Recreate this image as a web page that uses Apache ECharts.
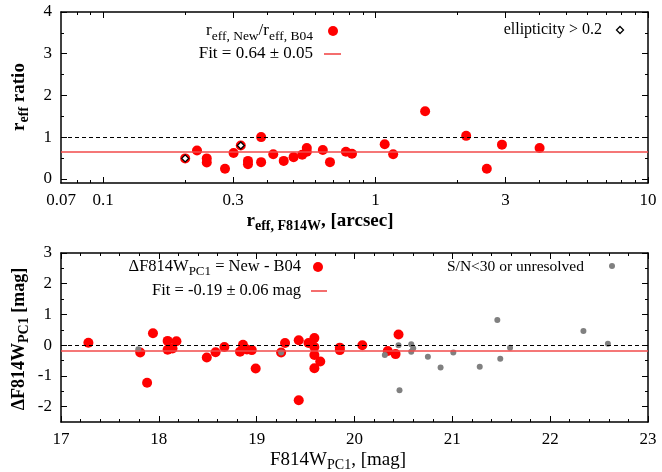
<!DOCTYPE html>
<html><head><meta charset="utf-8">
<script src="https://cdn.jsdelivr.net/npm/echarts@6/dist/echarts.min.js"></script>
<style>html,body{margin:0;padding:0;background:#fff}#c{width:662px;height:472px}</style>
</head><body><div id="c"></div>
<script>
// ---- data (top panel: r_eff ratio vs r_eff) ----
const ratioR   = [0.2,0.221,0.24,0.24,0.28,0.301,0.32,0.34,0.34,0.38,0.38,0.421,0.46,0.50,0.538,0.559,0.559,0.64,0.68,0.778,0.819,1.08,1.16,1.52,2.15,2.56,2.91,4.00];
const ratioVal = [0.49,0.68,0.49,0.39,0.24,0.62,0.80,0.43,0.35,1.0,0.40,0.59,0.43,0.52,0.58,0.65,0.74,0.69,0.40,0.65,0.60,0.83,0.59,1.62,1.03,0.24,0.82,0.74];
const ellipR   = [0.2,0.32];
const ellipVal = [0.49,0.80];
const fitRatio = 0.64;
const refRatio = 1;
// ---- data (bottom panel: delta mag vs mag) ----
const magGood  = [17.28,17.81,17.88,17.94,18.09,18.09,18.14,18.18,18.49,18.58,18.67,18.83,18.86,18.90,18.95,18.99,19.25,19.29,19.43,19.43,19.53,19.59,19.59,19.59,19.59,19.65,19.85,19.85,20.08,20.34,20.42,20.45];
const dMagGood = [0.08,-0.24,-1.22,0.39,0.14,-0.15,-0.11,0.13,-0.40,-0.23,-0.06,-0.21,0.01,-0.14,-0.16,-0.76,-0.24,0.07,0.16,-1.79,0.07,0.23,-0.06,-0.32,-0.75,-0.53,-0.08,-0.16,0.0,-0.19,-0.29,0.35];
const magLow   = [17.79,19.25,20.31,20.45,20.46,20.58,20.60,20.58,20.75,20.88,21.01,21.28,21.46,21.49,21.59,22.34,22.59];
const dMagLow  = [-0.13,-0.24,-0.32,0.0,-1.47,0.03,-0.10,-0.21,-0.38,-0.73,-0.24,-0.70,0.82,-0.44,-0.08,0.46,0.05];
const fitMag = -0.19;
const refMag = 0;
// ---- ticks ----
const topXLabels = [0.07,0.1,0.3,1,3,10];
const topXMajor  = [0.1,0.3,1,3,10];
const topXMinor  = [0.08,0.09,0.2,0.4,0.5,0.6,0.7,0.8,0.9,2,4,5,6,7,8,9];
const topYLabels = [0,1,2,3,4];
const topYMinor  = [0.5,1.5,2.5,3.5];
const botXLabels = [17,18,19,20,21,22,23];
const botXMinor  = [17.2,17.4,17.6,17.8,18.2,18.4,18.6,18.8,19.2,19.4,19.6,19.8,20.2,20.4,20.6,20.8,21.2,21.4,21.6,21.8,22.2,22.4,22.6,22.8];
const botYLabels = [-2,-1,0,1,2,3];
const botYMinor  = [-1.5,-0.5,0.5,1.5,2.5];

const FONT = 'Liberation Serif';
const zip = (a,b) => a.map((v,i)=>[v,b[i]]);
const fmt = v => String(+(+v).toPrecision(4));

function axis(grid, type, min, max, pos, ticks, len, labels, showLine) {
  const a = {
    type, gridIndex: grid, min, max, position: pos,
    axisLine: {show: showLine, onZero:false, lineStyle:{color:'#000', width:1.5}},
    axisTick: {show:true, inside:true, length:len, customValues: ticks, lineStyle:{color:'#000', width:1}},
    axisLabel: labels ? {show:true, customValues: labels, formatter: fmt, fontFamily: FONT, fontSize:17, color:'#000', margin:9}
                      : {show:false},
    splitLine: {show:false}
  };
  if (type === 'log') a.logBase = 10;
  return a;
}
function axisSet(grid, type, min, max, posA, posB, major, minor, labels) {
  return [
    axis(grid, type, min, max, posA, major, 6, labels, true),
    axis(grid, type, min, max, posA, minor, 3, null, false),
    axis(grid, type, min, max, posB, major, 6, null, true),
    axis(grid, type, min, max, posB, minor, 3, null, false)
  ];
}

const xAxis = [
  ...axisSet(0, 'log', 0.07, 10, 'bottom', 'top', topXMajor, topXMinor, topXLabels),
  ...axisSet(1, 'value', 17, 23, 'bottom', 'top', botXLabels, botXMinor, botXLabels)
];
const yAxis = [
  ...axisSet(0, 'value', -0.1, 4, 'left', 'right', topYLabels, topYMinor, topYLabels),
  ...axisSet(1, 'value', -2.5, 3, 'left', 'right', botYLabels, botYMinor, botYLabels)
];

const ML = (ref, fit) => ({
  silent:true, symbol:'none', label:{show:false}, animation:false,
  data:[
    {yAxis: ref, lineStyle:{type:[4,3], color:'#000', width:1}},
    {yAxis: fit, lineStyle:{type:'solid', color:'#f24a4a', width:1.6}}
  ]
});

const sub = (size, bold) => ({fontFamily:FONT, fontSize:size, fontWeight: bold?'bold':'normal', color:'#000', padding:[Math.round(size*0.8),0,0,0]});
const nor = (size, bold) => ({fontFamily:FONT, fontSize:size, fontWeight: bold?'bold':'normal', color:'#000'});

function txt(x, y, text, rich, align, rot) {
  return {type:'text', x, y, rotation: rot||0, z:100,
    style:{text, rich, align: align||'left', verticalAlign:'middle', fontFamily:FONT, fontSize:15, fill:'#000'}};
}

const graphic = [
  txt(19, 97, '{n|r}{s|eff}{n| ratio}', {n:nor(19,true), s:sub(14,true)}, 'center', Math.PI/2),
  txt(320, 221, '{n|r}{s|eff, F814W}{n|, [arcsec]}', {n:nor(19,true), s:sub(14,true)}, 'center'),
  txt(19, 339, '{n|ΔF814W}{s|PC1}{n| [mag]}', {n:nor(18,true), s:sub(14,true)}, 'center', Math.PI/2),
  txt(338, 460, '{n|F814W}{s|PC1}{n|, [mag]}', {n:nor(19,false), s:sub(14,false)}, 'center'),
  txt(313, 31, '{n|r}{s|eff, New}{n|/r}{s|eff, B04}', {n:nor(17), s:sub(13.5)}, 'right'),
  txt(313, 54, '{n|Fit = 0.64 ± 0.05}', {n:nor(17)}, 'right'),
  txt(602, 30, '{n|ellipticity > 0.2}', {n:nor(16)}, 'right'),
  {type:'circle', shape:{cx:333, cy:31, r:5}, style:{fill:'#ff0000'}, z:100},
  {type:'line', shape:{x1:324, y1:54, x2:341, y2:54}, style:{stroke:'#f24a4a', lineWidth:1.6}, z:100},
  {type:'polygon', shape:{points:[[620,26.5],[623.5,30],[620,33.5],[616.5,30]]}, style:{fill:'#fff', stroke:'#000', lineWidth:1.3}, z:100},
  txt(301, 267, '{n|ΔF814W}{s|PC1}{n| = New - B04}', {n:nor(16.5), s:sub(13)}, 'right'),
  txt(301, 291, '{n|Fit = -0.19 ± 0.06 mag}', {n:nor(16.5)}, 'right'),
  txt(584, 267, '{n|S/N<30 or unresolved}', {n:nor(15.5)}, 'right'),
  {type:'circle', shape:{cx:318, cy:267, r:5}, style:{fill:'#ff0000'}, z:100},
  {type:'line', shape:{x1:311, y1:291, x2:327, y2:291}, style:{stroke:'#f24a4a', lineWidth:1.6}, z:100},
  {type:'circle', shape:{cx:612, cy:266, r:3}, style:{fill:'#808080'}, z:100}
];

const option = {
  animation:false,
  backgroundColor:'#fff',
  grid:[
    {left:61, top:12, width:587, height:171},
    {left:61, top:253, width:587, height:169}
  ],
  xAxis, yAxis, graphic,
  series:[
    {type:'scatter', xAxisIndex:0, yAxisIndex:0, data: zip(ratioR, ratioVal), symbol:'circle', symbolSize:10,
      itemStyle:{color:'#ff0000', opacity:1}, markLine: ML(refRatio, fitRatio), z:3},
    {type:'scatter', xAxisIndex:0, yAxisIndex:0, data: zip(ellipR, ellipVal), symbol:'diamond', symbolSize:7,
      itemStyle:{color:'#fff', borderColor:'#000', borderWidth:1.3, opacity:1}, z:4},
    {type:'scatter', xAxisIndex:4, yAxisIndex:4, data: zip(magGood, dMagGood), symbol:'circle', symbolSize:10,
      itemStyle:{color:'#ff0000', opacity:1}, markLine: ML(refMag, fitMag), z:3},
    {type:'scatter', xAxisIndex:4, yAxisIndex:4, data: zip(magLow, dMagLow), symbol:'circle', symbolSize:6,
      itemStyle:{color:'#808080', opacity:1}, z:4}
  ]
};
const chart = echarts.init(document.getElementById('c'), null, {renderer:'canvas'});
chart.setOption(option);
</script></body></html>
